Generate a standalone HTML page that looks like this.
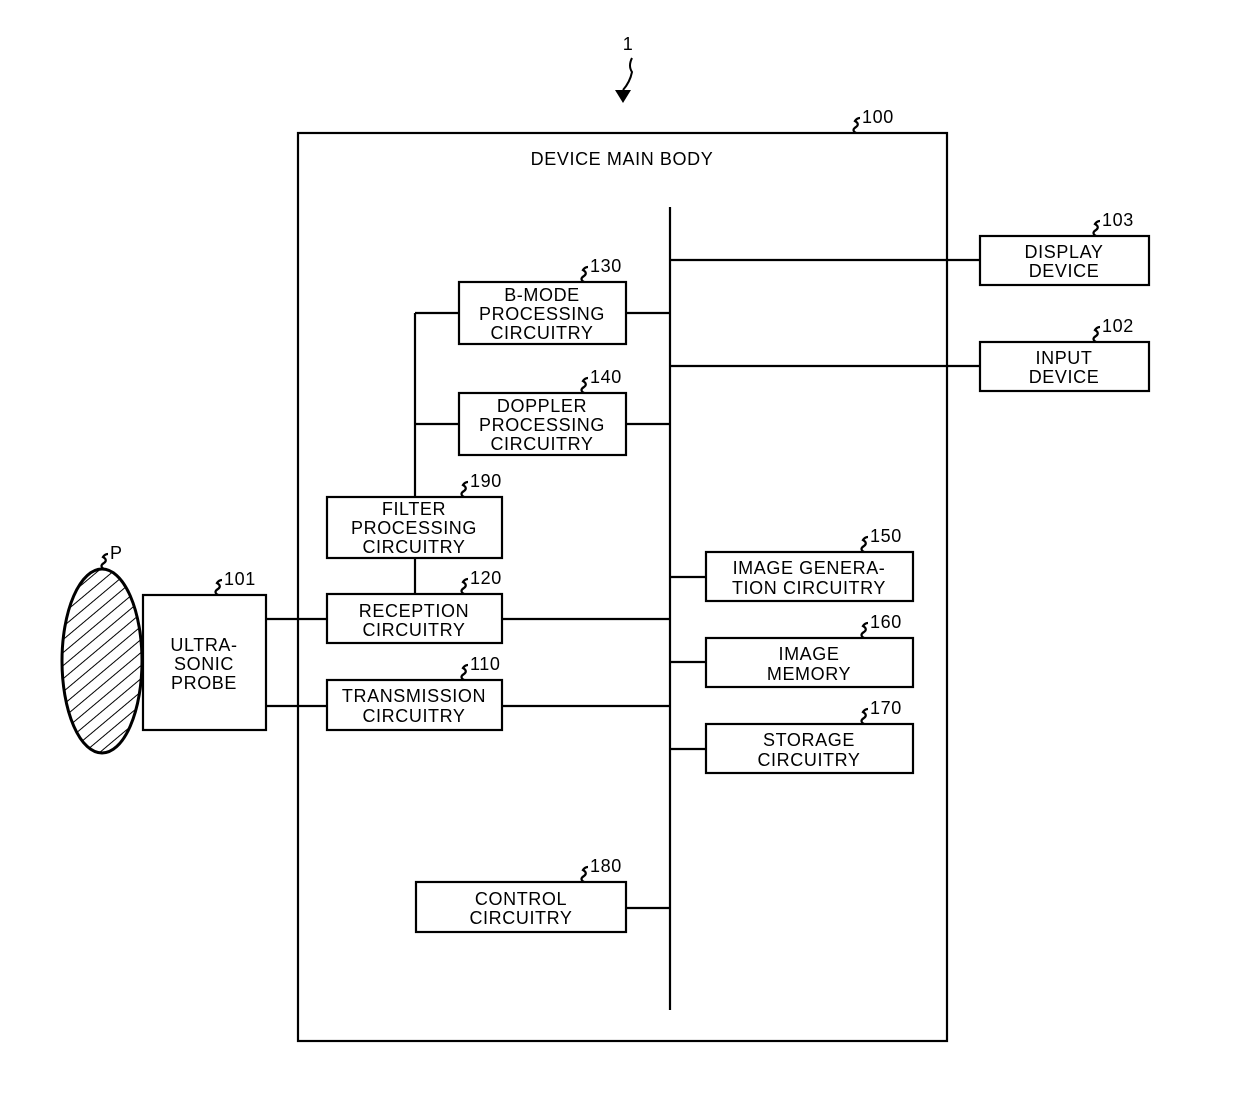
<!DOCTYPE html>
<html><head><style>
html,body{margin:0;padding:0;background:#fff;}
svg text{font-family:"Liberation Sans",sans-serif;font-size:18px;fill:#000;letter-spacing:0.6px;}
</style></head><body>
<svg width="1240" height="1107" viewBox="0 0 1240 1107" xmlns="http://www.w3.org/2000/svg">
<defs>
<pattern id="h" patternUnits="userSpaceOnUse" width="10" height="10" patternTransform="rotate(-40)">
<line x1="0" y1="0" x2="10" y2="0" stroke="#000" stroke-width="2"/>
</pattern>
</defs>
<g fill="none" stroke="#000" stroke-width="2.2">
<rect x="298" y="133" width="649" height="908"/>
<line x1="670" y1="207" x2="670" y2="1010"/>
<rect x="980" y="236" width="169" height="49"/>
<line x1="670" y1="260" x2="980" y2="260"/>
<rect x="980" y="342" width="169" height="49"/>
<line x1="670" y1="366" x2="980" y2="366"/>
<rect x="459" y="282" width="167" height="62"/>
<line x1="626" y1="313" x2="670" y2="313"/>
<line x1="415" y1="313" x2="459" y2="313"/>
<rect x="459" y="393" width="167" height="62"/>
<line x1="626" y1="424" x2="670" y2="424"/>
<line x1="415" y1="424" x2="459" y2="424"/>
<line x1="415" y1="313" x2="415" y2="497"/>
<rect x="327" y="497" width="175" height="61"/>
<line x1="415" y1="558" x2="415" y2="594"/>
<rect x="327" y="594" width="175" height="49"/>
<line x1="502" y1="619" x2="670" y2="619"/>
<line x1="266" y1="619" x2="327" y2="619"/>
<rect x="327" y="680" width="175" height="50"/>
<line x1="502" y1="706" x2="670" y2="706"/>
<line x1="266" y1="706" x2="327" y2="706"/>
<rect x="143" y="595" width="123" height="135"/>
<rect x="706" y="552" width="207" height="49"/>
<line x1="670" y1="577" x2="706" y2="577"/>
<rect x="706" y="638" width="207" height="49"/>
<line x1="670" y1="662" x2="706" y2="662"/>
<rect x="706" y="724" width="207" height="49"/>
<line x1="670" y1="749" x2="706" y2="749"/>
<rect x="416" y="882" width="210" height="50"/>
<line x1="626" y1="908" x2="670" y2="908"/>
<ellipse cx="102" cy="661" rx="40" ry="92" fill="url(#h)" stroke-width="3"/>
<path d="M632,58 q-4,8 0,14 q-2,10 -9,18" stroke-width="2"/>
</g>
<polygon points="615,90 631,90 623,103" fill="#000"/>
<g fill="none" stroke="#000" stroke-width="2.2">
<path d="M856,133 q-5,-3 0,-6 q4,-3 -1,-6 q2,-3 5,-3"/>
<path d="M1096,236 q-5,-3 0,-6 q4,-3 -1,-6 q2,-3 5,-3"/>
<path d="M1096,342 q-5,-3 0,-6 q4,-3 -1,-6 q2,-3 5,-3"/>
<path d="M584,282 q-5,-3 0,-6 q4,-3 -1,-6 q2,-3 5,-3"/>
<path d="M584,393 q-5,-3 0,-6 q4,-3 -1,-6 q2,-3 5,-3"/>
<path d="M464,497 q-5,-3 0,-6 q4,-3 -1,-6 q2,-3 5,-3"/>
<path d="M464,594 q-5,-3 0,-6 q4,-3 -1,-6 q2,-3 5,-3"/>
<path d="M464,680 q-5,-3 0,-6 q4,-3 -1,-6 q2,-3 5,-3"/>
<path d="M218,595 q-5,-3 0,-6 q4,-3 -1,-6 q2,-3 5,-3"/>
<path d="M104,569 q-5,-3 0,-6 q4,-3 -1,-6 q2,-3 5,-3"/>
<path d="M864,552 q-5,-3 0,-6 q4,-3 -1,-6 q2,-3 5,-3"/>
<path d="M864,638 q-5,-3 0,-6 q4,-3 -1,-6 q2,-3 5,-3"/>
<path d="M864,724 q-5,-3 0,-6 q4,-3 -1,-6 q2,-3 5,-3"/>
<path d="M584,882 q-5,-3 0,-6 q4,-3 -1,-6 q2,-3 5,-3"/>
</g>
<text x="628" y="50" text-anchor="middle">1</text>
<text x="862" y="123">100</text>
<text x="1102" y="226">103</text>
<text x="1102" y="332">102</text>
<text x="590" y="272">130</text>
<text x="590" y="383">140</text>
<text x="470" y="487">190</text>
<text x="470" y="584">120</text>
<text x="470" y="670">110</text>
<text x="224" y="585">101</text>
<text x="110" y="559">P</text>
<text x="870" y="542">150</text>
<text x="870" y="628">160</text>
<text x="870" y="714">170</text>
<text x="590" y="872">180</text>
<g text-anchor="middle">
<text x="622" y="165">DEVICE MAIN BODY</text>
<text x="1064" y="258">DISPLAY</text><text x="1064" y="277">DEVICE</text>
<text x="1064" y="364">INPUT</text><text x="1064" y="383">DEVICE</text>
<text x="542" y="301">B-MODE</text><text x="542" y="320">PROCESSING</text><text x="542" y="339">CIRCUITRY</text>
<text x="542" y="412">DOPPLER</text><text x="542" y="431">PROCESSING</text><text x="542" y="450">CIRCUITRY</text>
<text x="414" y="515">FILTER</text><text x="414" y="534">PROCESSING</text><text x="414" y="553">CIRCUITRY</text>
<text x="414" y="617">RECEPTION</text><text x="414" y="636">CIRCUITRY</text>
<text x="414" y="702">TRANSMISSION</text><text x="414" y="722">CIRCUITRY</text>
<text x="204" y="651">ULTRA-</text><text x="204" y="670">SONIC</text><text x="204" y="689">PROBE</text>
<text x="809" y="574">IMAGE GENERA-</text><text x="809" y="594">TION CIRCUITRY</text>
<text x="809" y="660">IMAGE</text><text x="809" y="680">MEMORY</text>
<text x="809" y="746">STORAGE</text><text x="809" y="766">CIRCUITRY</text>
<text x="521" y="905">CONTROL</text><text x="521" y="924">CIRCUITRY</text>
</g>
</svg>
</body></html>
